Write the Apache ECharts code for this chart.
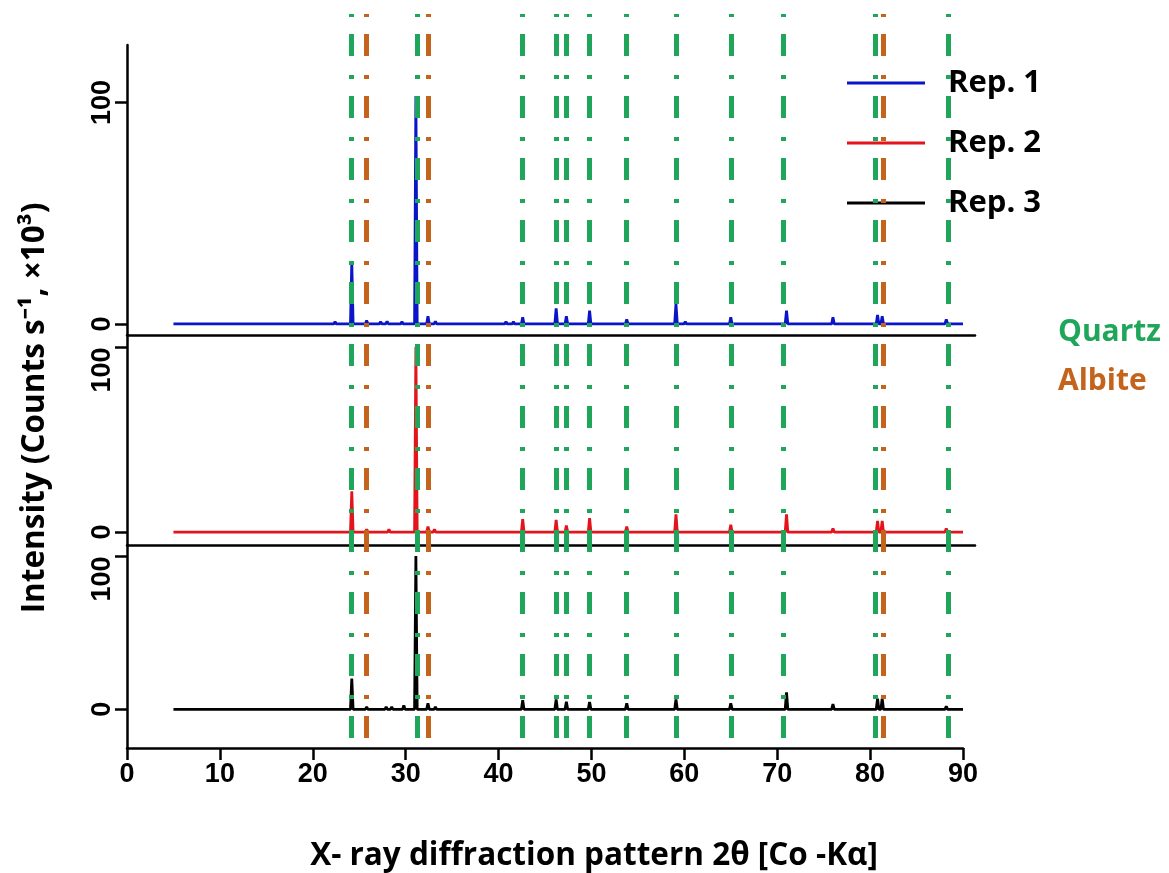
<!DOCTYPE html>
<html>
<head>
<meta charset="utf-8">
<script src="https://cdn.jsdelivr.net/npm/echarts@6/dist/echarts.min.js"></script>
<style>html,body{margin:0;padding:0;background:#fff;}#c{width:1169px;height:873px;}</style>
</head>
<body>
<div id="c"></div>
<script>
// ---- data (2θ in degrees, intensity in counts s^-1 ×10^3) ----
const xTicks = [0, 10, 20, 30, 40, 50, 60, 70, 80, 90];
const yTickValues = [0, 100];
const scanStart = 5;
const scanEnd = 90;
const seriesNames = ['Rep. 1', 'Rep. 2', 'Rep. 3'];
// peaks: [2θ, intensity]
const rep1Peaks = [[21.6, 0.8], [22.4, 1.0], [24.2, 28], [25.8, 1.5], [27.3, 1.0], [28.0, 1.2], [29.6, 1.0], [31.1, 103], [32.4, 3.5], [33.2, 1.2], [35.3, 0.8], [36.1, 0.8], [40.8, 1.0], [41.6, 1.0], [42.6, 3], [46.2, 7], [47.3, 3.5], [49.8, 6], [53.8, 2], [59.1, 9], [60.1, 1], [65.0, 3], [71.0, 6], [76.0, 3], [80.8, 4], [81.3, 3.5], [88.2, 2]];
const rep2Peaks = [[21.8, 1.0], [22.6, 1.0], [24.2, 22], [25.8, 1.5], [27.5, 1.0], [28.2, 1.5], [29.8, 1.0], [31.1, 100], [32.4, 3], [33.1, 1.5], [35.2, 1.0], [35.9, 1.0], [36.6, 1.0], [40.7, 1.0], [41.5, 1.0], [42.6, 7], [46.2, 6.5], [47.3, 3.5], [49.8, 7.5], [53.8, 3], [59.1, 9.5], [60.0, 1], [65.0, 4], [71.0, 9.5], [76.0, 2], [78.2, 1], [80.8, 6], [81.3, 6], [88.2, 2]];
const rep3Peaks = [[21.5, 0.8], [24.2, 20], [25.8, 1.5], [27.2, 1.2], [27.9, 1.5], [28.5, 1.5], [29.8, 2.5], [31.1, 100], [32.4, 4], [33.2, 1.5], [35.5, 1.0], [37.5, 1.0], [42.6, 6], [46.2, 6.5], [47.3, 5], [49.8, 4.7], [53.8, 4], [55.5, 1], [59.1, 6.5], [61.0, 1], [65.0, 4], [71.0, 11], [76.0, 3.5], [80.8, 7], [81.3, 7], [88.2, 2]];
const quartzLines = [24.1, 31.3, 42.6, 46.2, 47.3, 49.8, 53.8, 59.1, 65.0, 70.6, 80.5, 88.4];
const albiteLines = [25.8, 32.4, 81.4];

// ---- build line data from listed peaks ----
function buildPattern(peaks) {
  const hw = 0.14;
  const pts = [[scanStart, 0]];
  peaks.slice().sort((a, b) => a[0] - b[0]).forEach(p => {
    pts.push([p[0] - hw, 0], [p[0], p[1]], [p[0] + hw, 0]);
  });
  pts.push([scanEnd, 0]);
  return pts;
}

const FONT = '"Open Sans", "Liberation Sans", sans-serif';
const NUMFONT = '"Liberation Sans", Arial, sans-serif';
const GREEN = '#1fa65a';
const ORANGE = '#c4641c';

const chart = echarts.init(document.getElementById('c'), null, {renderer: 'canvas'});

const numStyle = {color: '#000', fontFamily: NUMFONT, fontWeight: 'bold', fontSize: 27};

function yAx(gi, min, max, shiftTop, extra) {
  return Object.assign({
    gridIndex: gi, type: 'value', min: min, max: max,
    axisLine: {show: true, lineStyle: {color: '#000', width: 2.5}},
    axisTick: {show: true, length: 12, inside: false, customValues: yTickValues, lineStyle: {color: '#000', width: 2.5}},
    axisLabel: {show: true, customValues: yTickValues, rotate: 90, margin: 11, color: '#000',
      fontFamily: NUMFONT, fontWeight: 'bold', fontSize: 27,
      formatter: v => (shiftTop && v === 100) ? '{d|100}' : '{n|' + v + '}',
      rich: {
        d: Object.assign({padding: [0, 46, 0, 0]}, numStyle),
        n: Object.assign({}, numStyle)
      }},
    splitLine: {show: false}
  }, extra || {});
}

const hiddenX = (gi, max) => ({
  gridIndex: gi, type: 'value', min: 0, max: max,
  axisLine: {show: true, onZero: false, lineStyle: {color: '#000', width: 2.5}},
  axisTick: {show: false}, axisLabel: {show: false}, splitLine: {show: false}
});

const lineSeries = (name, idx, peaks, color) => ({
  name: name, type: 'line', xAxisIndex: idx, yAxisIndex: idx,
  data: buildPattern(peaks), showSymbol: false, symbol: 'none',
  lineStyle: {color: color, width: 2.8}, itemStyle: {color: color},
  z: 2, animation: false
});

const refSeries = (name, lines, color) => ({
  name: name, type: 'line', xAxisIndex: 3, yAxisIndex: 3, data: [],
  z: 5, animation: false,
  markLine: {
    silent: true, symbol: ['none', 'none'], animation: false,
    label: {show: false},
    lineStyle: {color: color, width: 5, type: [22, 17, 4, 19], opacity: 1},
    emphasis: {disabled: true},
    data: lines.map(v => ({xAxis: v}))
  }
});

chart.setOption({
  backgroundColor: '#fff',
  animation: false,
  grid: [
    {left: 127, right: 194, top: 45, bottom: 538, containLabel: false},
    {left: 127, right: 194, top: 335, bottom: 328, containLabel: false},
    {left: 127, right: 206, top: 545, bottom: 123, containLabel: false},
    {left: 127, right: 206, top: 14, bottom: 135, containLabel: false}
  ],
  xAxis: [
    hiddenX(0, 90 * 848 / 836),
    hiddenX(1, 90 * 848 / 836),
    {
      gridIndex: 2, type: 'value', min: 0, max: 90, interval: 10,
      axisLine: {show: true, onZero: false, lineStyle: {color: '#000', width: 2.5}},
      axisTick: {show: true, length: 12, lineStyle: {color: '#000', width: 2.5}},
      axisLabel: {show: true, margin: 13, color: '#000', fontFamily: NUMFONT, fontWeight: 'bold', fontSize: 27,
        customValues: xTicks},
      splitLine: {show: false},
      name: 'X- ray diffraction pattern 2θ [Co -Kα]', nameLocation: 'middle', nameGap: 92,
      nameTextStyle: {color: '#000', fontFamily: FONT, fontWeight: 'bold', fontSize: 31.5, padding: [0, 0, 0, 98]}
    },
    {gridIndex: 3, type: 'value', min: 0, max: 90, show: false}
  ],
  yAxis: [
    yAx(0, -5, 126, false),
    yAx(1, -7, 106.5, true, {
      name: 'Intensity (Counts s\u207B\u00B9, \u00D710\u00B3)', nameLocation: 'middle', nameGap: 76,
      nameTextStyle: {color: '#000', fontFamily: FONT, fontWeight: 'bold', fontSize: 31.5, padding: [0, 0, 0, 64]}
    }),
    yAx(2, -25.2, 107.1, true),
    {gridIndex: 3, type: 'value', min: 0, max: 1, show: false}
  ],
  legend: {
    orient: 'vertical', left: 842, top: 60, itemGap: 24,
    icon: 'rect', itemWidth: 78, itemHeight: 3,
    data: seriesNames,
    textStyle: {color: '#000', fontFamily: FONT, fontWeight: 'bold', fontSize: 31, lineHeight: 36, padding: [0, 0, 0, 18]},
    selectedMode: false
  },
  graphic: [
    {type: 'text', left: 1058, top: 317, style: {text: 'Quartz', fill: GREEN, font: 'bold 30px ' + FONT}},
    {type: 'text', left: 1058, top: 366, style: {text: 'Albite', fill: ORANGE, font: 'bold 30px ' + FONT}}
  ],
  series: [
    lineSeries(seriesNames[0], 0, rep1Peaks, '#0a14c8'),
    lineSeries(seriesNames[1], 1, rep2Peaks, '#e3141b'),
    lineSeries(seriesNames[2], 2, rep3Peaks, '#000000'),
    refSeries('Quartz', quartzLines, GREEN),
    refSeries('Albite', albiteLines, ORANGE)
  ]
});
</script>
</body>
</html>
